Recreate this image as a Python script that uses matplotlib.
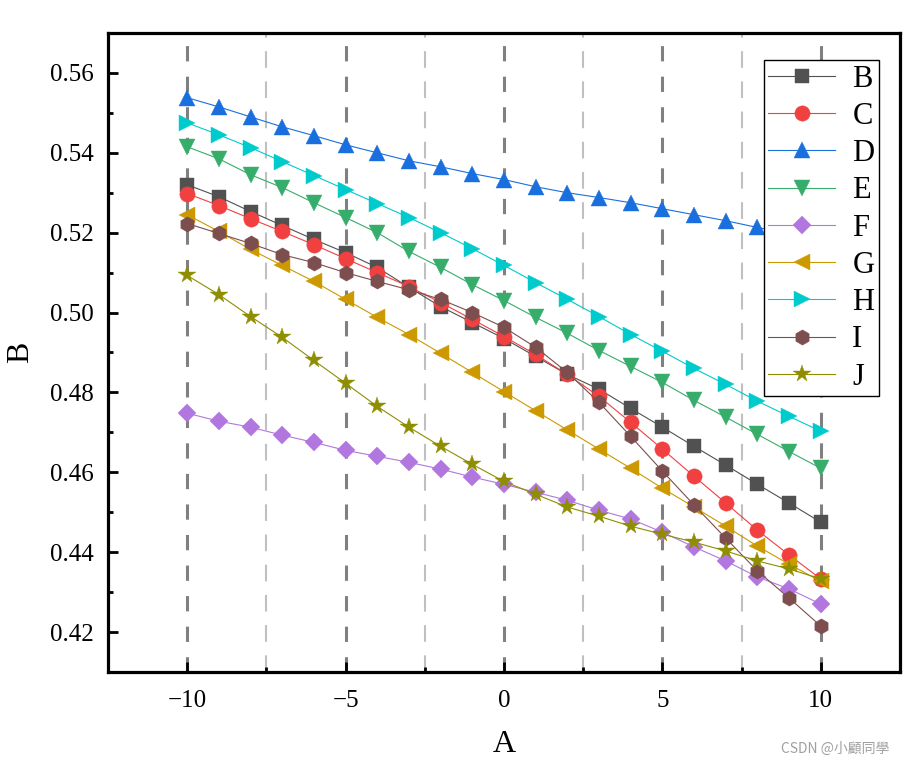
import matplotlib
matplotlib.use("Agg")
import matplotlib.pyplot as plt
from matplotlib.ticker import MultipleLocator, FormatStrFormatter

x = list(range(-10, 11))

B = [0.5320, 0.5290, 0.5253, 0.5218, 0.5183, 0.5150, 0.5113, 0.5063, 0.5015, 0.4975, 0.4935,
     0.4890, 0.4845, 0.4808, 0.4760, 0.4713, 0.4665, 0.4618, 0.4570, 0.4523, 0.4475]
C = [0.5298, 0.5268, 0.5235, 0.5203, 0.5170, 0.5135, 0.5100, 0.5065, 0.5025, 0.4983, 0.4940,
     0.4895, 0.4845, 0.4790, 0.4725, 0.4658, 0.4590, 0.4523, 0.4455, 0.4393, 0.4333]
D = [0.5538, 0.5515, 0.5490, 0.5465, 0.5443, 0.5420, 0.5400, 0.5380, 0.5365, 0.5348, 0.5333,
     0.5315, 0.5300, 0.5288, 0.5275, 0.5260, 0.5245, 0.5230, 0.5213, 0.5198, 0.5183]
E = [0.5415, 0.5385, 0.5345, 0.5313, 0.5275, 0.5238, 0.5200, 0.5153, 0.5113, 0.5070, 0.5030,
     0.4988, 0.4948, 0.4905, 0.4865, 0.4825, 0.4780, 0.4738, 0.4695, 0.4652, 0.4610]
F = [0.4748, 0.4728, 0.4713, 0.4693, 0.4675, 0.4655, 0.4640, 0.4625, 0.4608, 0.4588, 0.4570,
     0.4550, 0.4530, 0.4505, 0.4483, 0.4450, 0.4413, 0.4378, 0.4338, 0.4308, 0.4270]
G = [0.5245, 0.5203, 0.5158, 0.5118, 0.5078, 0.5033, 0.4988, 0.4945, 0.4898, 0.4850, 0.4802,
     0.4754, 0.4706, 0.4658, 0.4610, 0.4560, 0.4513, 0.4465, 0.4415, 0.4370, 0.4327]
H = [0.5475, 0.5445, 0.5413, 0.5378, 0.5343, 0.5308, 0.5273, 0.5238, 0.5200, 0.5160, 0.5118,
     0.5075, 0.5033, 0.4990, 0.4945, 0.4903, 0.4860, 0.4820, 0.4778, 0.4740, 0.4703]
I = [0.5223, 0.5198, 0.5173, 0.5145, 0.5125, 0.5100, 0.5078, 0.5057, 0.5033, 0.5000, 0.4963,
     0.4913, 0.4850, 0.4775, 0.4690, 0.4603, 0.4518, 0.4435, 0.4353, 0.4285, 0.4215]
J = [0.5093, 0.5045, 0.4990, 0.4938, 0.4880, 0.4823, 0.4765, 0.4713, 0.4665, 0.4620, 0.4577,
     0.4545, 0.4513, 0.4490, 0.4465, 0.4445, 0.4425, 0.4403, 0.4378, 0.4358, 0.4333]

names = ["B", "C", "D", "E", "F", "G", "H", "I", "J"]
series = [B, C, D, E, F, G, H, I, J]
colors = ["#515151", "#F14040", "#1A6FDF", "#37AD6B", "#B177DE",
          "#CC9900", "#00CBCC", "#7D4E4E", "#8E8E00"]
markers = ["s", "o", "^", "v", "D", "<", ">", "h", "*"]
msizes = [10, 11, 12, 12, 9, 12, 12, 11, 13]

plt.rcParams["font.family"] = ["Liberation Serif", "DejaVu Serif"]

fig = plt.figure(figsize=(9.06, 7.68), dpi=100)
ax = fig.add_axes([108 / 906, 96 / 768, 792 / 906, 639 / 768])

for name, ys, c, m, ms in zip(names, series, colors, markers, msizes):
    ax.plot(x, ys, color=c, lw=0.8, marker=m, ms=ms, mec=c, mew=0.3, label=name)

ax.set_xlim(-12.5, 12.5)
ax.set_ylim(0.41, 0.57)
ax.xaxis.set_major_locator(MultipleLocator(5))
ax.xaxis.set_minor_locator(MultipleLocator(2.5))
ax.yaxis.set_major_locator(MultipleLocator(0.02))
ax.yaxis.set_minor_locator(MultipleLocator(0.01))
ax.yaxis.set_major_formatter(FormatStrFormatter("%.2f"))

ax.set_axisbelow(True)
ax.grid(True, which="major", axis="x", color="#808080", lw=2.2, linestyle=(0, (5, 5)))
ax.grid(True, which="minor", axis="x", color="#c0c0c0", lw=1.5, linestyle=(0, (8, 6.5)))

for s in ax.spines.values():
    s.set_linewidth(2.3)
ax.tick_params(which="major", direction="in", length=7, width=2, labelsize=18)
ax.tick_params(which="minor", direction="in", length=3.5, width=2)
ax.tick_params(axis="x", which="major", pad=13)
ax.tick_params(axis="y", which="major", pad=10)

ax.set_xlabel("A", fontsize=23, labelpad=13)
ax.set_ylabel("B", fontsize=23, labelpad=11)

leg = ax.legend(loc="upper right", bbox_to_anchor=(0.9735, 0.9577), borderaxespad=0,
                fontsize=22, handlelength=2.2, labelspacing=0.27, handletextpad=0.55,
                borderpad=0.15, fancybox=False, framealpha=1, edgecolor="black")
leg.get_frame().set_linewidth(1.0)

fig.text(0.982, 0.025, "CSDN @小顧同學", ha="right", va="center", fontsize=10,
         color="#a0a0a0", family=["Noto Sans CJK TC", "DejaVu Sans"])

fig.savefig("out.png", dpi=100)
